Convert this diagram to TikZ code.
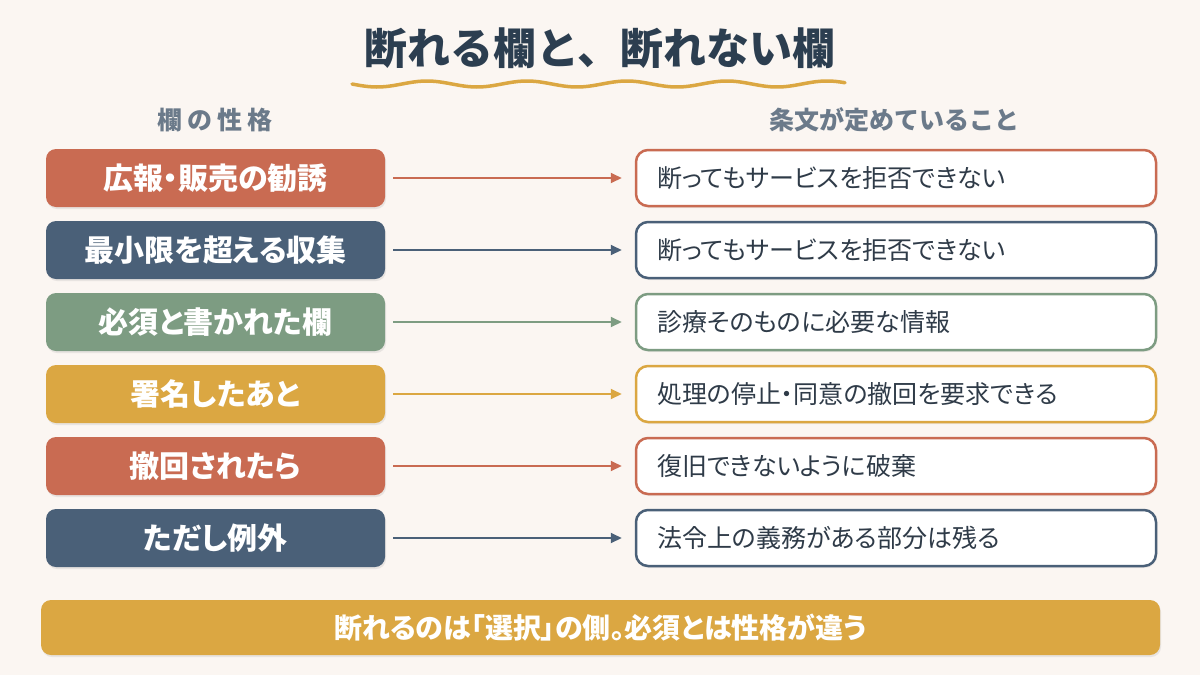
\documentclass[tikz,border=0pt]{standalone}
\usepackage{fontspec}
\setmainfont{Noto Sans CJK JP}
\newfontfamily\paltfont[RawFeature=+palt]{Noto Sans CJK JP}
\usetikzlibrary{arrows.meta,shadows}
\definecolor{bg}{HTML}{FBF6F2}
\definecolor{cred}{HTML}{C96B52}
\definecolor{cnavy}{HTML}{4A6078}
\definecolor{cgreen}{HTML}{7D9C82}
\definecolor{cgold}{HTML}{DBA742}
\definecolor{ctitle}{HTML}{2C3E50}
\definecolor{chead}{HTML}{6B7A8A}
\definecolor{ctext}{HTML}{2F3B48}
\tikzset{
  lbox/.style={fill=#1, rounded corners=10pt, minimum width=339pt, minimum height=58pt,
    text=white, font=\paltfont\fontsize{30}{34}\selectfont\bfseries, inner sep=0pt,
    drop shadow={opacity=0.15, shadow xshift=1pt, shadow yshift=-2pt}},
  rbox/.style={draw=#1, line width=2.5pt, fill=white, rounded corners=12pt,
    text width=478pt, align=left, inner xsep=21pt, inner ysep=0pt, minimum height=56pt,
    text=ctext, font=\paltfont\fontsize{25}{29}\selectfont,
    drop shadow={opacity=0.10, shadow xshift=1pt, shadow yshift=-2pt}},
  conn/.style={draw=#1, line width=2pt, -{Triangle[length=11pt,width=10pt]},
    shorten <=8pt, shorten >=13pt},
  hdr/.style={text=chead, font=\fontsize{25}{29}\selectfont\bfseries},
}
\begin{document}
\begin{tikzpicture}[x=1pt,y=-1pt]
\fill[bg] (0,0) rectangle (1200,675);
\useasboundingbox (0,0) rectangle (1200,675);
\node[text=ctitle, font=\fontsize{43}{48}\selectfont\bfseries] (title) at (600,48) {断れる欄と、断れない欄};
\draw[cgold, line width=3.5pt, line cap=round] plot[domain=352:845, samples=120, smooth] (\x, {84+3*sin((\x-352)*3.6)});
\node[hdr] (h1) at (215,120) {欄\hspace{5pt}の\hspace{5pt}性\hspace{5pt}格};
\node[hdr] (h2) at (894,120) {条文が定めていること};
\foreach \i/\c/\l/\r in {
  1/cred/広報・販売の勧誘/断ってもサービスを拒否できない,
  2/cnavy/最小限を超える収集/断ってもサービスを拒否できない,
  3/cgreen/必須と書かれた欄/診療そのものに必要な情報,
  4/cgold/署名したあと/処理の停止・同意の撤回を要求できる,
  5/cred/撤回されたら/復旧できないように破棄,
  6/cnavy/ただし例外/法令上の義務がある部分は残る}{
  \node[lbox=\c] (l\i) at (215.5,{178+72*(\i-1)}) {\l};
  \node[rbox=\c] (r\i) at (896,{178+72*(\i-1)}) {\r};
  \draw[conn=\c] (l\i.east) -- (r\i.west);
}
\node[fill=cgold, rounded corners=10pt, minimum width=1119pt, minimum height=55pt, inner sep=0pt,
  text=white, font=\paltfont\fontsize{28}{32}\selectfont\bfseries,
  drop shadow={opacity=0.15, shadow xshift=1pt, shadow yshift=-2pt}] (banner) at (600.5,627.5)
  {断れるのは「選択」の側。必須とは性格が違う};
\end{tikzpicture}
\end{document}
